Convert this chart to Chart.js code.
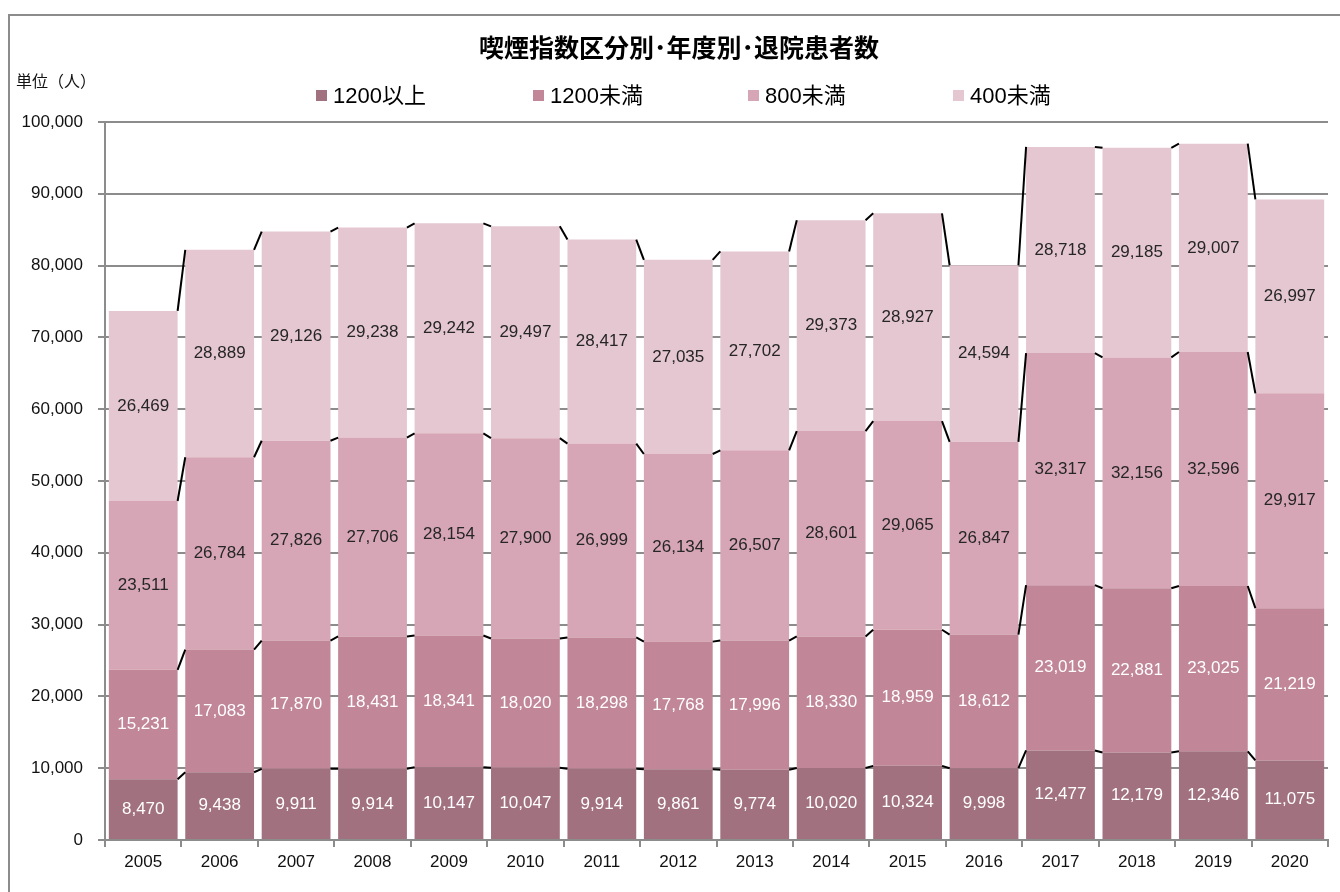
<!DOCTYPE html>
<html>
<head>
<meta charset="utf-8">
<script src="https://cdn.jsdelivr.net/npm/chart.js@4/dist/chart.umd.min.js"></script>
<style>
  html, body { margin: 0; padding: 0; background: #fff; }
  #wrap { width: 1340px; height: 892px; position: relative; }
</style>
</head>
<body>
<div id="wrap"><canvas id="chart"></canvas></div>
<script>
// data
const years = ['2005','2006','2007','2008','2009','2010','2011','2012','2013','2014','2015','2016','2017','2018','2019','2020'];
const over1200 = [8470, 9438, 9911, 9914, 10147, 10047, 9914, 9861, 9774, 10020, 10324, 9998, 12477, 12179, 12346, 11075];
const under1200 = [15231, 17083, 17870, 18431, 18341, 18020, 18298, 17768, 17996, 18330, 18959, 18612, 23019, 22881, 23025, 21219];
const under800 = [23511, 26784, 27826, 27706, 28154, 27900, 26999, 26134, 26507, 28601, 29065, 26847, 32317, 32156, 32596, 29917];
const under400 = [26469, 28889, 29126, 29238, 29242, 29497, 28417, 27035, 27702, 29373, 28927, 24594, 28718, 29185, 29007, 26997];
const seriesNames = ['1200以上', '1200未満', '800未満', '400未満'];
const yTicks = [0, 10000, 20000, 30000, 40000, 50000, 60000, 70000, 80000, 90000, 100000];

const colors = ['#A1717F', '#C18698', '#D7A6B6', '#E5C7D1'];
const labelColors = ['#FFFFFF', '#FFFFFF', '#262626', '#262626'];
const latin = '"Liberation Sans", Arial, "Noto Sans CJK JP", sans-serif';
const cjk = '"Liberation Sans", "Noto Sans CJK JP", sans-serif';

// frame, title, unit label and legend
const decorPlugin = {
    id: 'decor',
    beforeDraw(chart) {
        const c = chart.ctx;
        c.save();
        c.fillStyle = '#fff';
        c.fillRect(0, 0, chart.width, chart.height);
        c.strokeStyle = '#8c8c8c';
        c.lineWidth = 2;
        c.beginPath();
        c.moveTo(9, chart.height);
        c.lineTo(9, 15);
        c.lineTo(chart.width, 15);
        c.stroke();
        c.restore();
    },
    afterDraw(chart) {
        const c = chart.ctx;
        c.save();
        c.fillStyle = '#000';
        c.textBaseline = 'middle';
        c.font = 'bold 25px "Noto Sans CJK JP", sans-serif';
        c.textAlign = 'center';
        c.fillText('喫煙指数区分別･年度別･退院患者数', 679, 47);

        c.textAlign = 'left';
        c.font = '16px "Noto Sans CJK JP", sans-serif';
        c.fillStyle = '#111';
        c.fillText('単位（人）', 16, 81);

        const legendX = [316, 533, 748, 953];
        c.font = '22px ' + cjk;
        seriesNames.forEach((name, i) => {
            c.fillStyle = colors[i];
            c.fillRect(legendX[i], 90, 11, 11);
            c.fillStyle = '#000';
            c.fillText(name, legendX[i] + 17, 97);
        });
        c.restore();
    }
};

// Excel-style series lines + centred value labels
const barExtrasPlugin = {
    id: 'barExtras',
    afterDatasetsDraw(chart) {
        const c = chart.ctx;
        c.save();
        c.strokeStyle = '#000';
        c.lineWidth = 2;
        chart.data.datasets.forEach((ds, i) => {
            const bars = chart.getDatasetMeta(i).data;
            for (let j = 0; j < bars.length - 1; j++) {
                const a = bars[j], b = bars[j + 1];
                c.beginPath();
                c.moveTo(a.x + a.width / 2, a.y);
                c.lineTo(b.x - b.width / 2, b.y);
                c.stroke();
            }
        });
        c.font = '17px ' + latin;
        c.textAlign = 'center';
        c.textBaseline = 'middle';
        chart.data.datasets.forEach((ds, i) => {
            const bars = chart.getDatasetMeta(i).data;
            c.fillStyle = labelColors[i];
            bars.forEach((bar, j) => {
                c.fillText(ds.data[j].toLocaleString('en-US'), bar.x, (bar.y + bar.base) / 2);
            });
        });
        c.restore();
    }
};

const seriesData = [over1200, under1200, under800, under400];

new Chart(document.getElementById('chart'), {
    type: 'bar',
    data: {
        labels: years,
        datasets: seriesData.map((d, i) => ({
            label: seriesNames[i],
            data: d,
            backgroundColor: colors[i],
            borderWidth: 0,
            categoryPercentage: 0.9,
            barPercentage: 1.0
        }))
    },
    options: {
        responsive: true,
        maintainAspectRatio: false,
        animation: false,
        events: [],
        layout: { padding: { top: 122, right: 12, left: 0, bottom: 0 } },
        plugins: {
            legend: { display: false },
            title: { display: false },
            tooltip: { enabled: false }
        },
        scales: {
            x: {
                stacked: true,
                afterFit: (s) => { s.height = 52; },
                grid: { offset: true, drawOnChartArea: false, color: '#8c8c8c', lineWidth: 2, tickLength: 7 },
                border: { color: '#8c8c8c', width: 2 },
                ticks: { color: '#111', font: { family: latin, size: 17 }, padding: 5 }
            },
            y: {
                stacked: true,
                min: 0,
                max: 100000,
                afterFit: (s) => { s.width = 105; },
                afterBuildTicks: (s) => { s.ticks = yTicks.map(v => ({ value: v })); },
                grid: { color: '#8c8c8c', lineWidth: 2, tickLength: 7 },
                border: { color: '#8c8c8c', width: 2 },
                ticks: {
                    color: '#111',
                    padding: 15,
                    font: { family: latin, size: 17 },
                    callback: (v) => v.toLocaleString('en-US')
                }
            }
        }
    },
    plugins: [decorPlugin, barExtrasPlugin]
});
</script>
</body>
</html>
